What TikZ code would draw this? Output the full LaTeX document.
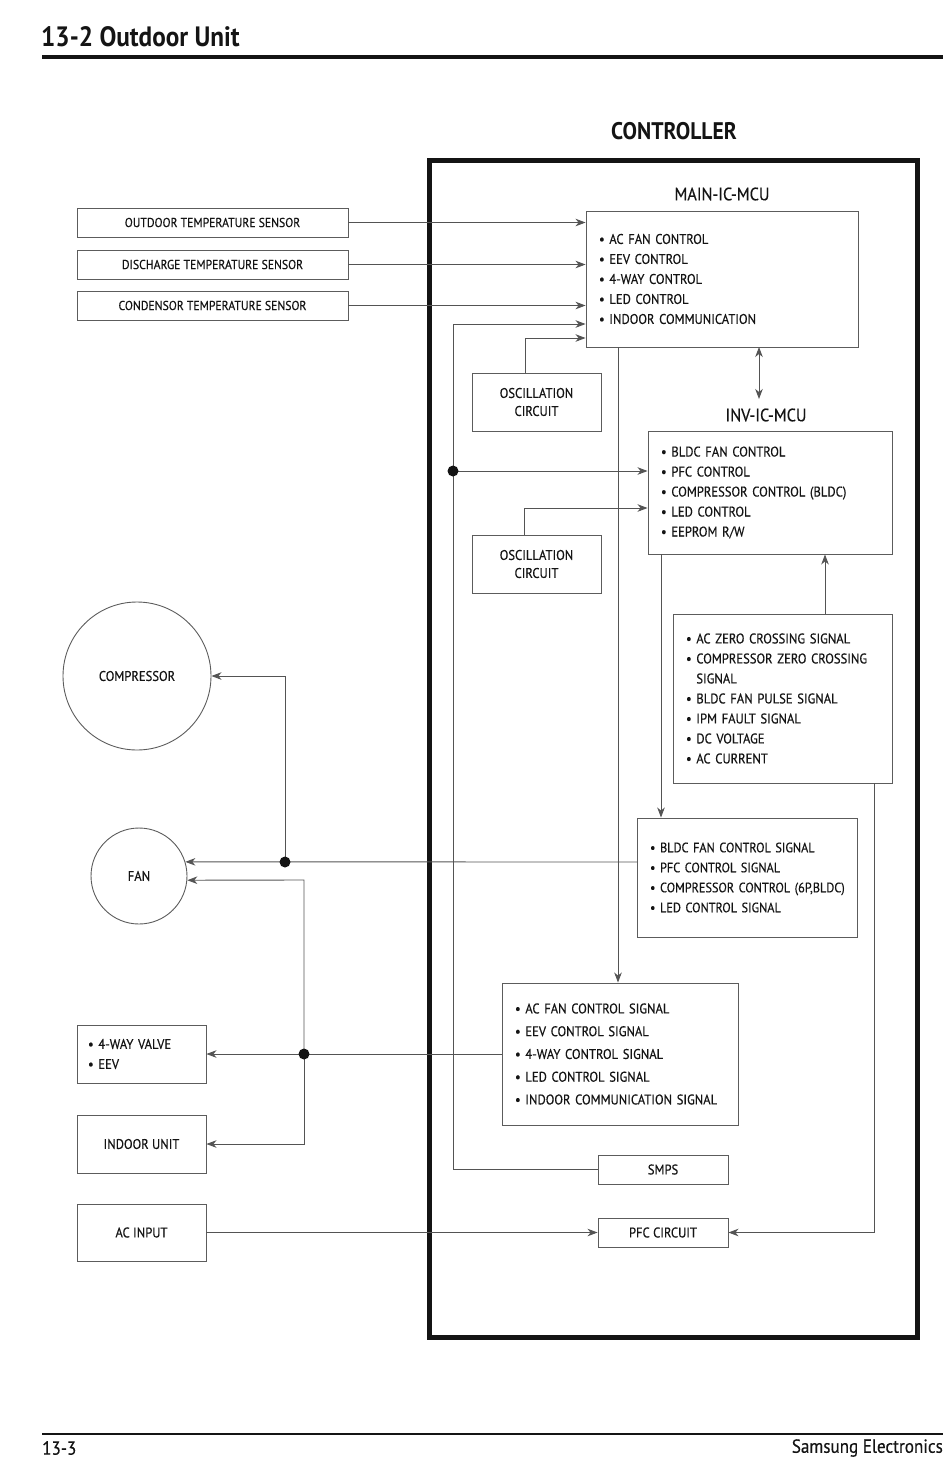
\documentclass[tikz,border=0pt]{standalone}
\usepackage{fontspec}
\setmainfont{PT Sans}[FakeStretch=0.9,UprightFeatures={FakeBold=0.35}]
\usetikzlibrary{arrows.meta,calc}
\definecolor{ln}{gray}{0.33}
\definecolor{bd}{gray}{0.36}
\definecolor{tx}{gray}{0.08}
\tikzset{
  >={Stealth[length=10pt,width=7.5pt,inset=3pt]},
  box/.style={draw=bd,line width=0.9pt,inner sep=0pt,text=tx,align=center},
  listbox/.style={draw=bd,line width=0.9pt,inner xsep=13pt,inner ysep=0pt,text=tx,align=left},
  conn/.style={draw=ln,line width=0.9pt},
  dot/.style={fill=tx},
  sens/.style={box,minimum width=271pt,minimum height=29pt,font=\fontsize{13}{15}\selectfont},
  small/.style={box,minimum width=129pt,minimum height=58pt,font=\fontsize{14}{18}\selectfont},
  lst/.style={font=\fontsize{14}{20}\selectfont},
}
\newcommand{\bl}{\textbullet\ }
\begin{document}
\begin{tikzpicture}[x=1pt,y=-1pt]
\useasboundingbox (0,0) rectangle (950,1465);
% header and footer
\node[anchor=west,inner sep=0pt,text=tx,font=\fontsize{28}{30}\selectfont\bfseries] (title) at (41,37) {13-2 Outdoor Unit};
\draw[line width=4pt,tx] (42,57) -- (943,57);
\draw[line width=2pt,tx] (42,1434) -- (943,1434);
\node[anchor=west,inner sep=0pt,text=tx,font=\fontsize{19}{20}\selectfont] (pg) at (42,1448) {13-3};
\node[anchor=east,inner sep=0pt,text=tx,font=\fontsize{19}{20}\selectfont] (brand) at (943,1448) {Samsung Electronics};
% controller frame
\node[inner sep=0pt,text=tx,font=\fontsize{24}{26}\selectfont\bfseries] (ctrllbl) at (674,131) {CONTROLLER};
\node[draw=tx,line width=5pt,minimum width=488pt,minimum height=1177pt,inner sep=0pt] (ctrl) at (673,748.5) {};
% sensors
\node[sens] (s1) at (212.5,222.5) {OUTDOOR TEMPERATURE SENSOR};
\node[sens] (s2) at (212.5,264.5) {DISCHARGE TEMPERATURE SENSOR};
\node[sens] (s3) at (212.5,305.5) {CONDENSOR TEMPERATURE SENSOR};
% main MCU
\node[inner sep=0pt,text=tx,font=\fontsize{18}{20}\selectfont] (mainlbl) at (722,194) {MAIN-IC-MCU};
\node[listbox,lst,text width=246pt,minimum height=136pt] (main) at (722,279)
 {\bl AC FAN CONTROL\\ \bl EEV CONTROL\\ \bl 4-WAY CONTROL\\ \bl LED CONTROL\\ \bl INDOOR COMMUNICATION};
\node[small] (osc1) at (536.5,402) {OSCILLATION\\CIRCUIT};
% inverter MCU
\node[inner sep=0pt,text=tx,font=\fontsize{18}{20}\selectfont] (invlbl) at (766,415) {INV-IC-MCU};
\node[listbox,lst,text width=218pt,minimum height=123pt] (inv) at (770,492.5)
 {\bl BLDC FAN CONTROL\\ \bl PFC CONTROL\\ \bl COMPRESSOR CONTROL (BLDC)\\ \bl LED CONTROL\\ \bl EEPROM R/W};
\node[small] (osc2) at (536.5,564) {OSCILLATION\\CIRCUIT};
\node[listbox,lst,text width=193pt,minimum height=169pt] (sig) at (782.5,698.5)
 {\bl AC ZERO CROSSING SIGNAL\\ \bl COMPRESSOR ZERO CROSSING\\ \phantom{\bl}SIGNAL\\ \bl BLDC FAN PULSE SIGNAL\\ \bl IPM FAULT SIGNAL\\ \bl DC VOLTAGE\\ \bl AC CURRENT};
\node[listbox,font=\fontsize{13.6}{20}\selectfont,text width=194pt,minimum height=119pt] (bldc) at (747,877.5)
 {\bl BLDC FAN CONTROL SIGNAL\\ \bl PFC CONTROL SIGNAL\\ \mbox{\bl COMPRESSOR CONTROL (6P,BLDC)}\\ \bl LED CONTROL SIGNAL};
\node[listbox,font=\fontsize{14}{22.75}\selectfont,text width=210pt,minimum height=142pt] (acfan) at (620,1054)
 {\bl AC FAN CONTROL SIGNAL\\ \bl EEV CONTROL SIGNAL\\ \bl 4-WAY CONTROL SIGNAL\\ \bl LED CONTROL SIGNAL\\ \bl INDOOR COMMUNICATION SIGNAL};
\node[box,minimum width=130pt,minimum height=29pt,font=\fontsize{14}{15}\selectfont] (smps) at (663,1169.5) {SMPS};
\node[box,minimum width=130pt,minimum height=29pt,font=\fontsize{14}{15}\selectfont] (pfc) at (663,1232.5) {PFC CIRCUIT};
% outside devices
\node[draw=bd,line width=0.9pt,circle,minimum size=148pt,inner sep=0pt,text=tx,font=\fontsize{14}{15}\selectfont] (comp) at (137,676) {COMPRESSOR};
\node[draw=bd,line width=0.9pt,circle,minimum size=96pt,inner sep=0pt,text=tx,font=\fontsize{14}{15}\selectfont] (fan) at (139,876) {FAN};
\node[listbox,inner xsep=11pt,font=\fontsize{14}{20}\selectfont,text width=107pt,minimum height=58pt] (fourway) at (141.5,1054) {\bl 4-WAY VALVE\\ \bl EEV};
\node[small] (indoor) at (141.5,1144) {INDOOR UNIT};
\node[small,minimum height=57pt] (acin) at (141.5,1232.5) {AC INPUT};
% coordinates
\coordinate (bt) at (453,324);
\coordinate (d1) at (453,471);
\coordinate (mdn) at (618,347);
\coordinate (idn) at (661,554);
\coordinate (sup) at (825,614);
\coordinate (sdn) at (874,783);
\coordinate (bw) at (637,862);
\coordinate (d2) at (285,862);
\coordinate (d3) at (304,1054);
\coordinate (v2) at (304,880);
\coordinate (dbl1) at (759,347);
\coordinate (dbl2) at (759,399);
% connectors
\draw[conn,->] (s1.east) -- (s1.east -| main.west);
\draw[conn,->] (s2.east) -- (s2.east -| main.west);
\draw[conn,->] (s3.east) -- (s3.east -| main.west);
\draw[conn,->] (smps.west) -| (bt) -- (bt -| main.west);
\draw[conn,->] ($(osc1.north)+(-11.5,0)$) |- ($(main.west)+(0,59)$);
\draw[conn,->] (d1) -- (d1 -| inv.west);
\draw[conn,->] ($(osc2.north)+(-12,0)$) |- ($(inv.west)+(0,15.5)$);
\draw[conn,<->] (dbl1) -- (dbl2);
\draw[conn,->] (mdn) -- (mdn |- acfan.north);
\draw[conn,->] (idn) -- (idn |- bldc.north);
\draw[conn,->] (sup) -- (sup |- inv.south);
\draw[conn,->] (sdn) |- (pfc.east);
\draw[conn,->] (bw) -- (fan.17);
\draw[conn,->] (d2) |- (comp.east);
\draw[conn,->] (acfan.west) -- (fourway.east);
\draw[conn,->] (d3) -- (v2) -- (fan.-5);
\draw[conn,->] (d3) |- (indoor.east);
\draw[conn,->] (acin.east) -- (pfc.west);
\fill[dot] (d1) circle (5.5pt);
\fill[dot] (d2) circle (5.5pt);
\fill[dot] (d3) circle (5.5pt);
\end{tikzpicture}
\end{document}
